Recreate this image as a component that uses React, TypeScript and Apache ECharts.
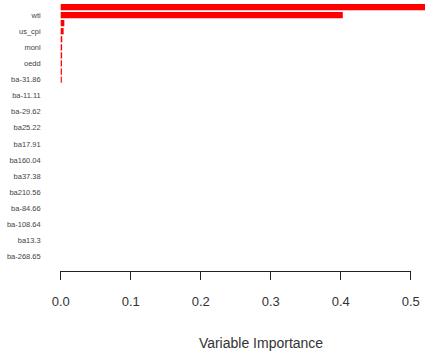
import React, { useEffect, useRef } from "react";
import * as echarts from "echarts";

const categories: string[] = [
  "v01", "wti", "v03", "us_cpi", "v05", "monl", "v07", "oedd",
  "v09", "ba-31.86", "v11", "ba-11.11", "v13", "ba-29.62", "v15", "ba25.22",
  "v17", "ba17.91", "v19", "ba160.04", "v21", "ba37.38", "v23", "ba210.56",
  "v25", "ba-84.66", "v27", "ba-108.64", "v29", "ba13.3", "v31", "ba-268.65",
];
const importance: number[] = [
  0.535, 0.403, 0.0052, 0.0042, 0.0022, 0.002, 0.002, 0.0018,
  0.0018, 0.0016, 0, 0, 0, 0, 0, 0,
  0, 0, 0, 0, 0, 0, 0, 0,
  0, 0, 0, 0, 0, 0, 0, 0,
];
const xTicks: number[] = [0, 0.1, 0.2, 0.3, 0.4, 0.5];

export default function App() {
  const ref = useRef<HTMLDivElement>(null);
  useEffect(() => {
    if (!ref.current) return;
    const chart = echarts.init(ref.current, null, { renderer: "svg" });
    chart.setOption({
      animation: false,
      backgroundColor: "#ffffff",
      grid: { left: 60.7, right: 14.3, top: 3, bottom: 95, containLabel: false },
      xAxis: {
        type: "value",
        min: xTicks[0],
        max: xTicks[xTicks.length - 1],
        interval: 0.1,
        offset: 10,
        axisLine: { show: true, lineStyle: { color: "#222", width: 1 } },
        axisTick: { show: true, length: 9, lineStyle: { color: "#222", width: 1 } },
        splitLine: { show: false },
        axisLabel: {
          margin: 24,
          color: "#333",
          fontSize: 13,
          fontFamily: "Liberation Sans, Arial, sans-serif",
          formatter: (v: number) => v.toFixed(1),
        },
      },
      yAxis: {
        type: "category",
        data: categories,
        inverse: true,
        axisLine: { show: false },
        axisTick: { show: false },
        axisLabel: {
          interval: (index: number) => index % 2 === 1,
          margin: 20,
          color: "#444",
          fontSize: 7.5,
          fontFamily: "Liberation Sans Narrow, Liberation Sans, Arial, sans-serif",
        },
      },
      series: [
        {
          type: "bar",
          data: importance,
          clip: false,
          barCategoryGap: "22%",
          itemStyle: { color: "#ff0000" },
        },
      ],
      graphic: [
        {
          type: "text",
          x: 261,
          y: 343,
          style: {
            text: "Variable Importance",
            fill: "#333",
            fontSize: 14,
            fontFamily: "Liberation Sans Narrow, Liberation Sans, Arial, sans-serif",
            align: "center",
            verticalAlign: "middle",
          },
        },
      ],
    });
    return () => chart.dispose();
  }, []);
  return (
    <div
      ref={ref}
      style={{ width: 425, height: 356, position: "absolute", left: 0, top: 0 }}
    />
  );
}
